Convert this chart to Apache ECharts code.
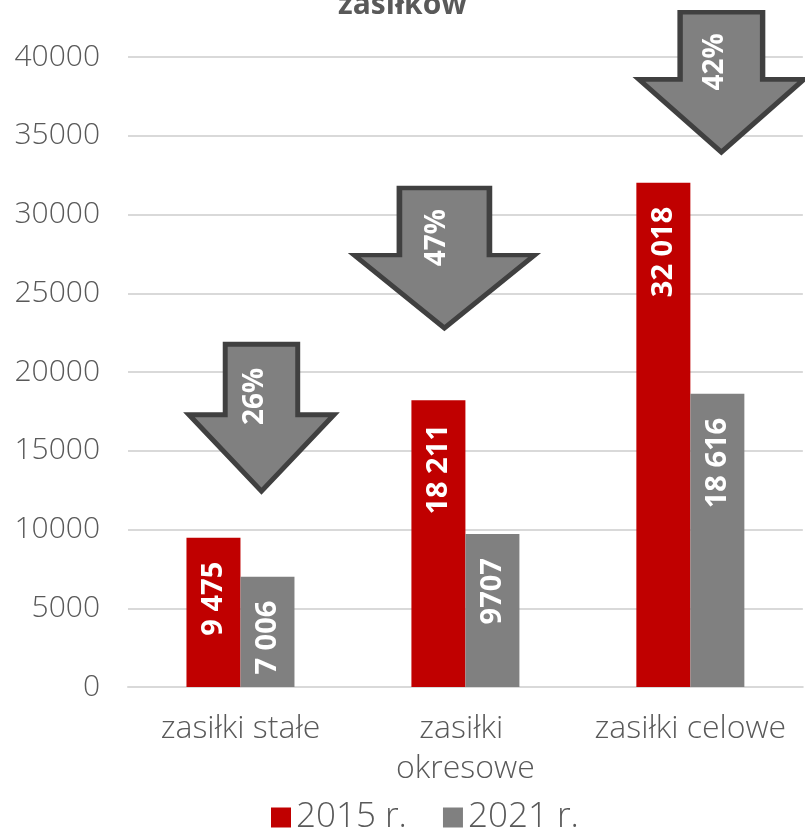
<!DOCTYPE html>
<html>
<head>
<meta charset="utf-8">
<script src="https://cdn.jsdelivr.net/npm/echarts@6/dist/echarts.min.js"></script>
<style>
  html, body { margin: 0; padding: 0; background: #fff; }
  #chart { width: 805px; height: 837px; }
</style>
</head>
<body>
<div id="chart"></div>
<script>
const categories = ['zasiłki stałe', 'zasiłki okresowe', 'zasiłki celowe']
const values2015 = [9475, 18211, 32018]
const values2021 = [7006, 9707, 18616]
const labels2015 = ['9 475', '18 211', '32 018']
const labels2021 = ['7 006', '9707', '18 616']
const dropLabels = ['26%', '47%', '42%']
const yTicks = [0, 5000, 10000, 15000, 20000, 25000, 30000, 35000, 40000]

const font = '"Open Sans", Lato, sans-serif'
const textColor = '#595959'
const arrowPath = 'path://M25,0 L75,0 L75,48 L100,48 L50,100 L0,48 L25,48 Z'

// arrow placement: data coords, offsets are relative to the 2021 bar
const arrows = [
  { coord: [0, 17100], size: [145, 147], offset: [-6, 0] },
  { coord: [1, 27240], size: [180, 140], offset: [-48, 0] },
  { coord: [2, 38400], size: [165, 140], offset: [4, 0] }
]

const chart = echarts.init(document.getElementById('chart'))

const barLabel = (texts) => ({
  show: true,
  position: 'insideTop',
  distance: 24,
  rotate: 90,
  align: 'right',
  verticalAlign: 'middle',
  color: '#fff',
  fontWeight: 'bold',
  fontSize: 29,
  fontFamily: font,
  formatter: (p) => texts[p.dataIndex]
})

chart.setOption({
  animation: false,
  title: {
    text: 'zasiłków',
    left: 'center',
    top: -15,
    textStyle: { fontSize: 30, fontWeight: 'bold', color: textColor, fontFamily: font }
  },
  legend: {
    data: ['2015 r.', '2021 r.'],
    bottom: -3,
    left: 266,
    icon: 'rect',
    itemWidth: 20,
    itemHeight: 20,
    itemGap: 36,
    textStyle: { fontSize: 35, color: textColor, fontFamily: font, fontWeight: 300 }
  },
  grid: { left: 128, right: 0, top: 57, bottom: 150 },
  xAxis: {
    type: 'category',
    data: categories,
    axisTick: { show: false },
    axisLine: { lineStyle: { color: '#d9d9d9', width: 2 } },
    axisLabel: {
      interval: 0,
      margin: 22,
      fontSize: 32,
      fontWeight: 300,
      lineHeight: 40,
      color: textColor,
      fontFamily: font,
      width: 224,
      overflow: 'break'
    }
  },
  yAxis: {
    type: 'value',
    min: yTicks[0],
    max: yTicks[yTicks.length - 1],
    interval: 5000,
    axisLine: { show: false },
    axisTick: { show: false },
    splitLine: { lineStyle: { color: '#d9d9d9', width: 2 } },
    axisLabel: {
      margin: 28,
      fontSize: 30,
      fontWeight: 300,
      color: textColor,
      fontFamily: font,
      formatter: (v) => String(v)
    }
  },
  series: [
    {
      name: '2015 r.',
      type: 'bar',
      data: values2015,
      barWidth: 54,
      barGap: '0%',
      itemStyle: { color: '#c00000' },
      label: barLabel(labels2015)
    },
    {
      name: '2021 r.',
      type: 'bar',
      data: values2021,
      barWidth: 54,
      barGap: '0%',
      itemStyle: { color: '#808080' },
      label: barLabel(labels2021),
      markPoint: {
        silent: true,
        data: arrows.map((a, i) => ({
          coord: a.coord,
          symbol: arrowPath,
          symbolSize: a.size,
          symbolKeepAspect: false,
          symbolOffset: a.offset,
          value: dropLabels[i],
          itemStyle: { color: '#808080', borderColor: '#404040', borderWidth: 5 },
          label: {
            show: true,
            position: ['46%', '36%'],
            rotate: 90,
            align: 'center',
            verticalAlign: 'middle',
            color: '#fff',
            fontWeight: 'bold',
            fontSize: 28,
            fontFamily: font,
            formatter: dropLabels[i]
          }
        }))
      }
    }
  ]
})
</script>
</body>
</html>
